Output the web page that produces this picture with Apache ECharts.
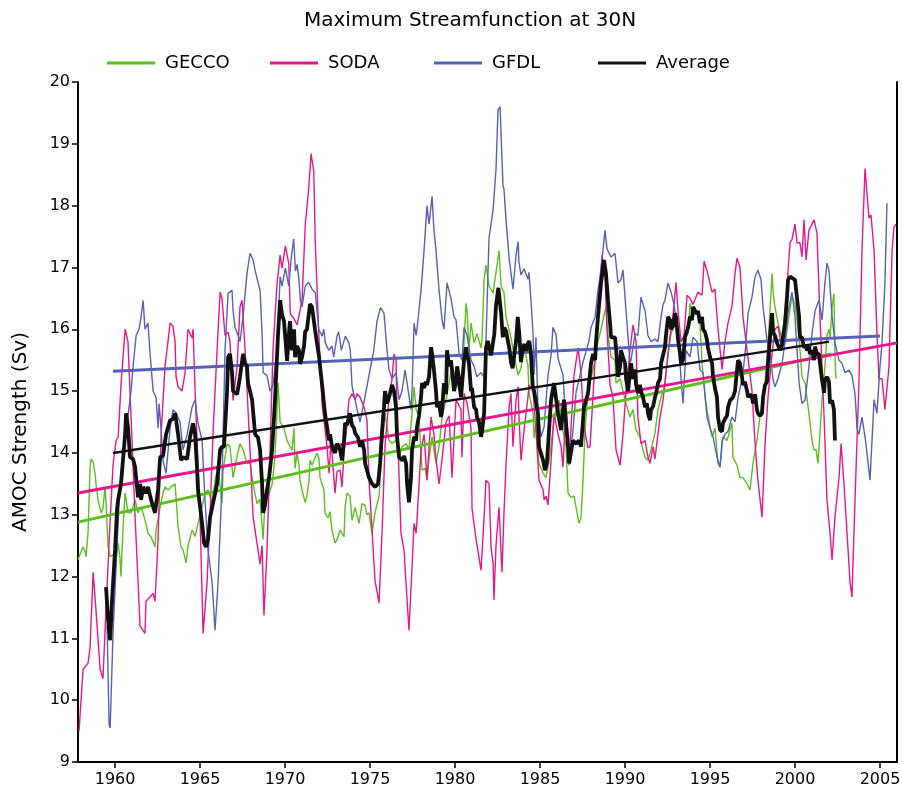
<!DOCTYPE html>
<html>
<head>
<meta charset="utf-8">
<script src="https://cdn.jsdelivr.net/npm/echarts@6/dist/echarts.min.js"></script>
<style>
html,body{margin:0;padding:0;background:#fff;}
#chart{width:902px;height:794px;}
</style>
</head>
<body>
<div id="chart"></div>
<script>
// ---- Data (year, Sv) ----
const SODA = [[1957.88,9.5],[1958.12,10.5],[1958.41,10.6],[1958.53,10.85],[1958.71,12.07],[1958.88,11.45],[1959.12,10.5],[1959.29,10.35],[1959.47,11.5],[1959.71,12.9],[1959.88,13.8],[1960.06,14.2],[1960.18,14.25],[1960.35,15.1],[1960.59,16.0],[1960.65,16.0],[1960.76,15.8],[1960.94,14.58],[1961.18,12.96],[1961.47,11.2],[1961.76,11.08],[1961.82,11.6],[1962.06,11.67],[1962.24,11.73],[1962.35,11.6],[1962.53,12.6],[1962.71,14.3],[1962.94,15.4],[1963.24,16.1],[1963.41,16.05],[1963.53,15.8],[1963.59,15.23],[1963.71,15.07],[1963.94,15.0],[1964.12,15.3],[1964.29,16.0],[1964.53,15.86],[1964.59,16.0],[1964.71,15.0],[1965.0,12.96],[1965.18,11.08],[1965.41,11.9],[1965.59,13.0],[1965.76,14.3],[1966.0,15.66],[1966.18,16.6],[1966.29,16.5],[1966.47,15.9],[1966.65,15.95],[1966.76,15.8],[1966.94,14.85],[1967.18,15.4],[1967.35,16.36],[1967.47,16.47],[1967.65,15.66],[1967.94,14.05],[1968.12,12.96],[1968.35,12.54],[1968.53,12.2],[1968.65,12.5],[1968.76,11.37],[1968.94,12.43],[1969.12,14.05],[1969.29,15.66],[1969.53,16.74],[1969.71,17.2],[1969.82,16.99],[1970.02,17.35],[1970.22,17.06],[1970.31,16.25],[1970.51,16.18],[1970.71,16.07],[1971.0,16.47],[1971.19,17.69],[1971.39,18.27],[1971.53,18.84],[1971.69,18.56],[1971.78,17.4],[1971.98,15.96],[1972.18,14.79],[1972.47,14.1],[1972.59,13.67],[1972.68,14.1],[1972.76,14.0],[1972.94,13.35],[1973.06,13.7],[1973.24,13.72],[1973.35,13.45],[1973.47,14.0],[1973.65,14.48],[1973.76,14.86],[1973.94,14.96],[1974.12,14.86],[1974.24,14.96],[1974.41,14.9],[1974.65,14.74],[1974.82,14.53],[1974.94,13.56],[1975.12,12.75],[1975.29,11.94],[1975.53,11.57],[1975.71,12.75],[1975.88,14.1],[1976.12,14.9],[1976.29,15.18],[1976.41,15.6],[1976.53,15.5],[1976.59,14.58],[1976.82,12.7],[1977.0,12.43],[1977.18,11.62],[1977.29,11.13],[1977.47,12.15],[1977.59,12.86],[1977.71,12.7],[1977.76,12.9],[1978.0,14.05],[1978.18,14.3],[1978.35,13.56],[1978.59,14.58],[1978.76,14.3],[1978.88,13.9],[1979.06,13.5],[1979.24,13.9],[1979.47,14.5],[1979.65,14.6],[1979.76,14.0],[1979.82,13.6],[1980.06,14.86],[1980.35,14.7],[1980.41,13.93],[1980.53,14.96],[1980.71,14.8],[1980.94,14.4],[1981.0,13.1],[1981.24,12.6],[1981.53,12.1],[1981.71,12.96],[1981.82,13.56],[1982.0,13.5],[1982.12,12.48],[1982.24,12.2],[1982.29,11.62],[1982.41,12.5],[1982.59,13.12],[1982.65,13.1],[1982.76,12.07],[1982.88,13.03],[1983.0,13.83],[1983.18,14.74],[1983.29,14.96],[1983.41,14.1],[1983.59,14.86],[1983.71,15.07],[1983.76,14.6],[1983.88,13.88],[1984.06,14.37],[1984.29,14.9],[1984.35,15.1],[1984.59,15.0],[1984.76,14.37],[1984.94,13.56],[1985.18,13.4],[1985.24,13.24],[1985.35,13.3],[1985.47,13.16],[1985.65,13.88],[1985.82,14.64],[1986.06,14.3],[1986.24,14.1],[1986.35,13.77],[1986.53,14.8],[1986.71,13.87],[1987.0,15.26],[1987.24,15.7],[1987.41,15.3],[1987.59,14.42],[1987.82,14.08],[1987.94,14.1],[1988.24,15.5],[1988.47,16.6],[1988.65,17.2],[1988.82,16.9],[1988.94,16.0],[1989.12,15.1],[1989.29,14.9],[1989.47,14.05],[1989.71,13.8],[1989.88,14.3],[1990.06,15.0],[1990.29,15.66],[1990.47,16.07],[1990.65,15.8],[1990.76,14.58],[1990.94,14.15],[1991.18,14.2],[1991.35,13.93],[1991.47,13.83],[1991.65,14.1],[1991.76,13.9],[1992.06,14.58],[1992.24,14.86],[1992.41,15.3],[1992.65,15.9],[1992.82,16.2],[1993.0,16.76],[1993.12,16.3],[1993.29,15.8],[1993.47,15.9],[1993.65,16.55],[1993.82,16.5],[1994.0,16.4],[1994.29,16.6],[1994.53,16.55],[1994.65,17.1],[1994.82,16.95],[1995.12,16.6],[1995.29,16.65],[1995.47,16.0],[1995.71,15.35],[1995.88,15.8],[1996.06,16.1],[1996.29,16.37],[1996.47,16.9],[1996.59,17.15],[1996.76,17.0],[1996.88,16.5],[1996.94,16.2],[1997.18,15.66],[1997.47,15.0],[1997.65,14.15],[1997.82,13.55],[1998.06,12.96],[1998.24,14.15],[1998.41,14.9],[1998.65,15.6],[1998.82,16.0],[1999.0,16.05],[1999.24,15.66],[1999.41,16.0],[1999.59,16.95],[1999.71,17.4],[1999.82,17.45],[2000.0,17.7],[2000.12,17.4],[2000.29,17.4],[2000.41,17.17],[2000.53,17.77],[2000.65,17.12],[2000.82,17.6],[2001.12,17.77],[2001.29,17.56],[2001.47,16.2],[2001.71,14.58],[2001.88,13.24],[2002.06,12.7],[2002.18,12.27],[2002.35,12.96],[2002.59,13.6],[2002.71,14.15],[2002.88,13.5],[2003.06,12.7],[2003.24,11.9],[2003.35,11.67],[2003.53,13.24],[2003.76,15.13],[2003.94,17.28],[2004.12,18.6],[2004.35,17.8],[2004.47,17.85],[2004.65,17.28],[2004.82,15.93],[2004.94,15.2],[2005.12,15.2],[2005.29,14.7],[2005.53,15.4],[2005.71,17.28],[2005.82,17.65],[2005.94,17.7]];

const GFDL = [[1959.53,11.2],[1959.65,9.6],[1959.71,9.55],[1959.88,11.08],[1960.06,12.15],[1960.29,13.5],[1960.59,14.3],[1960.76,14.6],[1960.94,15.0],[1961.06,15.4],[1961.24,15.9],[1961.41,16.0],[1961.53,16.2],[1961.65,16.47],[1961.76,16.0],[1961.94,16.1],[1962.06,15.6],[1962.24,15.0],[1962.41,14.9],[1962.53,14.4],[1962.59,14.8],[1962.71,14.37],[1962.82,13.88],[1963.0,13.67],[1963.24,14.4],[1963.41,14.7],[1963.59,14.65],[1963.82,14.5],[1964.0,14.05],[1964.24,14.3],[1964.53,14.74],[1964.71,14.86],[1964.88,14.48],[1965.12,14.2],[1965.29,13.24],[1965.47,12.43],[1965.71,11.9],[1965.88,11.13],[1966.06,11.9],[1966.29,13.5],[1966.47,15.66],[1966.65,16.58],[1966.88,16.63],[1966.94,16.3],[1967.06,16.03],[1967.24,15.9],[1967.35,15.8],[1967.53,16.2],[1967.76,16.9],[1967.94,17.23],[1968.12,17.12],[1968.24,16.95],[1968.35,16.95],[1968.53,16.63],[1968.65,15.93],[1968.71,15.3],[1968.94,15.25],[1969.12,15.0],[1969.29,15.1],[1969.53,15.66],[1969.71,16.85],[1969.82,16.7],[1970.02,16.99],[1970.22,16.7],[1970.37,17.17],[1970.51,17.46],[1970.61,16.94],[1970.71,17.05],[1970.81,16.82],[1970.9,16.47],[1971.0,16.36],[1971.19,16.7],[1971.39,16.76],[1971.59,16.65],[1971.78,16.59],[1971.98,16.0],[1972.18,15.89],[1972.28,16.0],[1972.37,15.78],[1972.57,15.66],[1972.76,15.73],[1972.86,15.55],[1973.06,15.89],[1973.16,15.96],[1973.31,15.66],[1973.55,15.89],[1973.75,15.78],[1973.84,15.66],[1973.94,15.08],[1974.12,14.86],[1974.24,14.7],[1974.41,14.5],[1974.63,14.8],[1974.82,15.08],[1975.02,15.37],[1975.22,15.66],[1975.41,16.13],[1975.61,16.35],[1975.82,16.26],[1976.0,15.66],[1976.12,15.34],[1976.29,15.2],[1976.53,15.3],[1976.71,14.86],[1976.88,15.0],[1977.06,15.34],[1977.18,15.13],[1977.41,14.7],[1977.47,15.0],[1977.59,16.1],[1977.71,15.9],[1977.76,16.0],[1978.0,16.63],[1978.18,17.28],[1978.35,18.0],[1978.47,17.7],[1978.65,18.15],[1978.76,17.6],[1978.88,17.28],[1979.06,16.63],[1979.24,16.15],[1979.35,16.0],[1979.53,16.75],[1979.76,16.5],[1979.94,16.2],[1980.06,16.15],[1980.24,15.6],[1980.41,15.5],[1980.53,16.03],[1980.71,15.9],[1980.94,15.5],[1981.12,15.4],[1981.29,15.23],[1981.53,15.3],[1981.71,15.23],[1981.82,15.81],[1982.0,17.48],[1982.24,17.93],[1982.41,18.59],[1982.53,19.55],[1982.65,19.6],[1982.71,19.16],[1982.82,18.32],[1982.88,18.27],[1983.0,17.77],[1983.12,17.37],[1983.18,17.15],[1983.41,16.65],[1983.59,17.2],[1983.71,17.42],[1983.76,17.09],[1983.88,16.88],[1984.06,16.98],[1984.29,16.81],[1984.35,16.92],[1984.47,16.47],[1984.59,15.92],[1984.65,15.26],[1984.76,15.87],[1984.88,14.7],[1985.06,14.26],[1985.24,14.42],[1985.47,15.26],[1985.65,15.58],[1985.76,16.03],[1985.94,15.92],[1986.06,15.53],[1986.35,15.26],[1986.53,14.42],[1986.71,13.8],[1986.94,14.37],[1987.12,14.98],[1987.53,15.47],[1987.88,15.81],[1988.0,16.03],[1988.24,16.2],[1988.41,16.63],[1988.59,16.96],[1988.71,17.3],[1988.82,17.6],[1988.94,17.3],[1989.18,17.17],[1989.41,17.23],[1989.59,16.75],[1989.76,16.8],[1989.88,16.96],[1990.06,16.3],[1990.29,15.45],[1990.35,15.5],[1990.59,15.93],[1990.76,15.9],[1990.94,16.52],[1991.06,16.4],[1991.18,16.3],[1991.35,15.9],[1991.53,15.8],[1991.76,15.84],[1991.94,15.8],[1992.12,16.2],[1992.24,16.4],[1992.35,16.47],[1992.53,16.75],[1992.71,16.6],[1992.88,16.4],[1993.12,15.93],[1993.29,15.23],[1993.41,14.8],[1993.59,15.66],[1993.82,15.55],[1994.0,15.87],[1994.24,15.8],[1994.41,15.34],[1994.59,15.3],[1994.82,14.58],[1995.0,14.4],[1995.18,14.26],[1995.41,13.93],[1995.59,13.77],[1995.71,14.2],[1995.88,14.3],[1996.06,14.35],[1996.29,14.58],[1996.47,14.5],[1996.65,14.9],[1996.88,15.18],[1997.06,15.6],[1997.24,16.26],[1997.47,16.52],[1997.65,16.85],[1997.82,16.96],[1998.0,16.8],[1998.12,16.36],[1998.35,15.83],[1998.53,15.6],[1998.71,15.18],[1998.82,15.07],[1999.0,15.2],[1999.24,15.45],[1999.41,15.8],[1999.59,16.26],[1999.82,16.6],[2000.0,16.2],[2000.24,15.13],[2000.41,14.8],[2000.59,14.85],[2000.82,15.4],[2001.0,15.93],[2001.18,16.3],[2001.41,16.47],[2001.59,16.15],[2001.76,16.75],[2001.88,17.07],[2002.0,16.95],[2002.18,16.2],[2002.35,15.78],[2002.59,15.5],[2002.76,15.45],[2002.94,15.3],[2003.18,15.34],[2003.35,15.25],[2003.53,14.96],[2003.65,14.4],[2003.76,14.3],[2003.94,14.58],[2004.12,14.26],[2004.35,13.72],[2004.41,13.56],[2004.53,14.2],[2004.65,14.86],[2004.82,14.64],[2005.0,15.4],[2005.12,15.78],[2005.29,16.75],[2005.41,18.04]];

const GECCO = [[1957.82,12.27],[1958.0,12.4],[1958.12,12.48],[1958.24,12.4],[1958.29,12.32],[1958.41,12.7],[1958.53,13.77],[1958.59,13.9],[1958.71,13.85],[1958.82,13.67],[1958.88,13.5],[1959.0,13.24],[1959.18,13.03],[1959.29,13.1],[1959.41,13.45],[1959.47,13.2],[1959.59,12.48],[1959.71,12.32],[1959.88,12.35],[1960.06,12.3],[1960.18,12.54],[1960.29,12.3],[1960.35,12.0],[1960.47,12.8],[1960.59,13.35],[1960.65,13.25],[1960.76,13.03],[1960.94,13.03],[1961.18,13.24],[1961.35,13.03],[1961.53,13.13],[1961.76,12.92],[1961.94,12.7],[1962.12,12.64],[1962.35,12.48],[1962.41,12.75],[1962.65,13.12],[1962.82,13.35],[1962.94,13.45],[1963.12,13.4],[1963.29,13.45],[1963.53,13.5],[1963.71,12.8],[1963.88,12.48],[1964.0,12.43],[1964.18,12.22],[1964.29,12.5],[1964.53,12.75],[1964.71,12.65],[1964.88,12.86],[1965.12,13.13],[1965.29,13.35],[1965.47,13.4],[1965.71,13.18],[1965.88,13.56],[1966.06,13.77],[1966.29,13.18],[1966.35,13.7],[1966.59,14.15],[1966.76,14.1],[1966.94,13.6],[1967.18,13.95],[1967.35,14.15],[1967.53,14.05],[1967.76,13.83],[1967.94,13.83],[1968.12,13.5],[1968.35,13.18],[1968.53,13.25],[1968.71,12.6],[1968.82,13.2],[1969.0,13.28],[1969.24,13.5],[1969.41,13.93],[1969.59,15.13],[1969.71,14.5],[1969.82,14.53],[1969.94,14.4],[1970.12,14.2],[1970.29,14.1],[1970.41,14.05],[1970.53,14.4],[1970.59,13.75],[1970.71,14.0],[1970.82,13.8],[1970.88,13.56],[1971.0,13.4],[1971.18,13.2],[1971.29,13.3],[1971.41,13.56],[1971.47,13.88],[1971.59,13.8],[1971.71,13.88],[1971.88,14.0],[1972.0,13.9],[1972.06,13.6],[1972.29,13.4],[1972.35,13.03],[1972.53,12.95],[1972.65,13.05],[1972.76,12.75],[1972.94,12.54],[1973.06,12.6],[1973.24,12.75],[1973.35,12.7],[1973.47,12.64],[1973.53,13.12],[1973.65,13.35],[1973.82,13.3],[1973.94,12.91],[1974.12,13.12],[1974.35,12.86],[1974.53,13.18],[1974.71,13.15],[1974.82,13.0],[1974.94,13.03],[1975.12,12.7],[1975.29,13.03],[1975.53,13.3],[1975.71,14.1],[1975.88,14.64],[1976.0,14.42],[1976.12,14.2],[1976.29,14.15],[1976.53,14.2],[1976.71,13.93],[1976.88,14.1],[1977.12,14.15],[1977.29,14.05],[1977.47,14.64],[1977.59,15.07],[1977.71,14.7],[1977.88,14.58],[1978.06,13.72],[1978.24,13.75],[1978.35,13.56],[1978.47,13.9],[1978.65,14.26],[1978.88,13.83],[1979.06,14.1],[1979.24,14.58],[1979.47,14.86],[1979.65,15.13],[1979.82,15.4],[1980.06,15.2],[1980.24,15.0],[1980.41,15.2],[1980.53,15.78],[1980.65,16.42],[1980.71,16.3],[1980.82,15.66],[1980.94,16.1],[1981.12,15.78],[1981.29,15.93],[1981.53,15.7],[1981.59,15.85],[1981.71,16.8],[1981.82,17.04],[1982.0,16.7],[1982.24,16.59],[1982.41,16.92],[1982.59,17.27],[1982.71,16.7],[1982.88,16.59],[1983.0,16.2],[1983.29,15.87],[1983.47,15.58],[1983.71,15.26],[1983.88,15.37],[1984.06,15.7],[1984.29,15.42],[1984.35,14.98],[1984.59,14.64],[1984.65,14.24],[1984.76,14.5],[1984.94,13.83],[1985.18,13.67],[1985.35,13.6],[1985.53,13.85],[1985.76,14.37],[1985.94,14.74],[1986.12,14.85],[1986.35,14.37],[1986.53,14.1],[1986.65,13.35],[1986.82,13.28],[1987.0,13.3],[1987.12,13.12],[1987.29,12.86],[1987.41,12.95],[1987.53,13.56],[1987.65,14.37],[1987.82,14.97],[1988.0,15.2],[1988.24,15.5],[1988.41,15.8],[1988.59,16.0],[1988.82,16.3],[1988.88,16.36],[1989.0,15.9],[1989.18,15.55],[1989.41,15.5],[1989.47,15.13],[1989.71,15.2],[1989.88,15.0],[1990.06,14.8],[1990.29,14.58],[1990.47,14.7],[1990.65,14.37],[1990.88,14.26],[1991.06,14.05],[1991.18,13.93],[1991.35,13.88],[1991.53,14.05],[1991.76,14.32],[1991.94,14.7],[1992.12,14.9],[1992.35,15.1],[1992.53,15.6],[1992.71,15.93],[1992.94,16.1],[1993.12,16.0],[1993.29,15.8],[1993.53,15.9],[1993.71,15.93],[1993.82,16.42],[1994.0,16.2],[1994.24,16.3],[1994.41,16.1],[1994.53,15.45],[1994.71,14.9],[1994.88,14.6],[1995.12,14.26],[1995.29,14.4],[1995.47,13.83],[1995.59,13.77],[1995.76,14.26],[1996.0,14.2],[1996.29,14.48],[1996.35,13.93],[1996.59,13.8],[1996.76,13.6],[1996.94,13.6],[1997.18,13.5],[1997.35,13.4],[1997.53,13.83],[1997.76,14.2],[1997.94,14.6],[1998.18,15.0],[1998.35,15.5],[1998.53,16.3],[1998.65,16.9],[1998.71,16.6],[1998.82,16.36],[1999.0,16.1],[1999.24,15.83],[1999.41,15.75],[1999.59,16.1],[1999.82,16.55],[2000.0,16.4],[2000.24,15.87],[2000.41,15.23],[2000.59,15.13],[2000.82,14.64],[2001.0,14.2],[2001.12,14.05],[2001.24,14.05],[2001.35,13.83],[2001.47,14.32],[2001.59,14.86],[2001.76,15.4],[2001.88,15.9],[2002.0,16.0],[2002.06,15.85],[2002.18,16.36],[2002.29,16.58],[2002.35,15.55],[2002.41,15.2]];

const AVERAGE = [[1959.47,11.83],[1959.59,11.3],[1959.71,10.97],[1959.82,11.6],[1960.0,12.43],[1960.12,13.1],[1960.18,13.24],[1960.35,13.5],[1960.59,14.3],[1960.65,14.64],[1960.76,14.42],[1960.88,13.93],[1961.06,13.9],[1961.18,13.77],[1961.35,13.28],[1961.47,13.5],[1961.53,13.24],[1961.65,13.45],[1961.82,13.35],[1961.94,13.45],[1962.12,13.24],[1962.35,13.03],[1962.53,13.4],[1962.65,13.93],[1962.82,13.95],[1963.0,14.3],[1963.24,14.53],[1963.41,14.55],[1963.53,14.64],[1963.71,14.3],[1963.88,13.88],[1964.0,13.93],[1964.24,13.9],[1964.41,14.26],[1964.59,14.48],[1964.71,14.3],[1964.82,13.77],[1964.88,13.4],[1965.12,12.86],[1965.24,12.54],[1965.35,12.48],[1965.47,12.6],[1965.59,12.96],[1965.76,13.18],[1966.0,13.5],[1966.18,14.05],[1966.29,14.1],[1966.41,14.1],[1966.59,15.0],[1966.65,15.55],[1966.76,15.6],[1966.88,15.3],[1966.94,15.0],[1967.18,14.95],[1967.35,15.23],[1967.53,15.6],[1967.65,15.45],[1967.76,15.4],[1967.82,15.13],[1968.06,14.86],[1968.24,14.3],[1968.41,14.25],[1968.53,14.05],[1968.65,13.5],[1968.71,13.03],[1968.82,13.15],[1968.94,13.4],[1969.06,13.6],[1969.24,14.05],[1969.41,14.86],[1969.59,15.93],[1969.71,16.47],[1969.82,16.24],[1969.94,16.13],[1970.12,15.49],[1970.24,15.96],[1970.29,16.13],[1970.41,15.66],[1970.53,16.0],[1970.59,15.55],[1970.71,15.73],[1970.82,15.66],[1970.88,15.44],[1971.0,15.55],[1971.12,15.73],[1971.18,15.96],[1971.29,16.0],[1971.47,16.41],[1971.59,16.36],[1971.76,16.0],[1972.0,15.55],[1972.18,15.1],[1972.35,14.64],[1972.59,14.2],[1972.65,14.3],[1972.76,14.1],[1972.94,14.0],[1973.06,14.15],[1973.24,14.05],[1973.35,13.88],[1973.47,14.2],[1973.53,14.48],[1973.65,14.45],[1973.76,14.58],[1973.82,14.64],[1973.94,14.45],[1974.06,14.4],[1974.12,14.32],[1974.29,14.25],[1974.41,14.1],[1974.53,14.2],[1974.65,14.05],[1974.71,13.83],[1974.94,13.6],[1975.12,13.5],[1975.29,13.45],[1975.47,13.5],[1975.59,13.83],[1975.71,14.37],[1975.82,14.74],[1975.88,15.0],[1976.0,14.8],[1976.12,14.9],[1976.29,15.1],[1976.41,15.0],[1976.53,14.74],[1976.59,14.26],[1976.71,13.93],[1976.88,13.88],[1977.0,13.95],[1977.12,13.83],[1977.18,13.5],[1977.29,13.2],[1977.41,13.6],[1977.47,14.05],[1977.59,14.26],[1977.71,14.2],[1977.76,14.42],[1977.88,14.6],[1978.0,14.9],[1978.06,15.13],[1978.18,15.05],[1978.29,15.15],[1978.35,15.1],[1978.47,15.23],[1978.59,15.71],[1978.65,15.6],[1978.76,15.34],[1978.88,15.0],[1978.94,14.74],[1979.06,14.8],[1979.18,14.58],[1979.24,14.7],[1979.35,15.13],[1979.47,14.95],[1979.53,15.66],[1979.65,15.4],[1979.76,15.5],[1979.82,15.35],[1979.94,15.0],[1980.06,15.15],[1980.12,15.4],[1980.24,15.2],[1980.35,14.9],[1980.41,15.1],[1980.53,15.5],[1980.65,15.71],[1980.71,15.6],[1980.82,15.45],[1980.94,15.0],[1981.0,15.05],[1981.12,14.74],[1981.24,14.7],[1981.29,14.58],[1981.41,14.5],[1981.53,14.26],[1981.59,14.35],[1981.71,14.64],[1981.76,15.1],[1981.82,15.7],[1981.92,15.81],[1982.02,15.7],[1982.12,15.58],[1982.22,15.58],[1982.31,15.92],[1982.41,16.38],[1982.55,16.67],[1982.71,16.26],[1982.81,15.87],[1982.9,16.03],[1983.0,15.97],[1983.1,15.98],[1983.19,15.7],[1983.29,15.47],[1983.39,15.37],[1983.59,15.81],[1983.69,16.2],[1983.78,15.92],[1983.88,15.47],[1983.98,15.7],[1984.08,15.76],[1984.18,15.65],[1984.27,15.76],[1984.37,15.81],[1984.47,15.58],[1984.57,15.08],[1984.65,15.0],[1984.88,14.64],[1984.94,14.1],[1985.18,13.88],[1985.29,13.72],[1985.41,13.85],[1985.53,14.37],[1985.65,14.86],[1985.82,15.13],[1986.06,14.64],[1986.24,14.37],[1986.41,14.86],[1986.65,14.1],[1986.71,13.83],[1986.94,14.2],[1987.12,14.15],[1987.29,14.2],[1987.41,14.1],[1987.59,14.74],[1987.82,14.96],[1988.0,15.45],[1988.12,15.6],[1988.24,15.5],[1988.29,15.78],[1988.41,16.2],[1988.59,16.75],[1988.76,17.12],[1988.88,16.9],[1989.0,16.47],[1989.12,16.1],[1989.18,15.87],[1989.41,15.87],[1989.47,15.7],[1989.59,15.23],[1989.71,15.4],[1989.76,15.66],[1989.88,15.55],[1990.0,15.45],[1990.06,15.2],[1990.18,15.0],[1990.29,15.3],[1990.35,15.45],[1990.47,15.2],[1990.59,15.35],[1990.65,15.1],[1990.76,14.97],[1990.88,15.1],[1990.94,15.0],[1991.06,14.9],[1991.18,14.74],[1991.29,14.8],[1991.35,14.64],[1991.47,14.53],[1991.53,14.7],[1991.65,14.75],[1991.76,14.9],[1991.82,14.95],[1991.94,15.13],[1992.06,15.2],[1992.12,15.45],[1992.35,15.71],[1992.41,15.9],[1992.53,16.2],[1992.65,16.15],[1992.71,16.0],[1992.82,16.05],[1992.94,16.26],[1993.0,16.2],[1993.12,15.83],[1993.24,15.6],[1993.29,15.45],[1993.41,15.5],[1993.53,15.87],[1993.59,15.9],[1993.71,16.03],[1993.82,16.2],[1993.94,16.15],[1994.0,16.36],[1994.12,16.3],[1994.24,16.25],[1994.29,16.3],[1994.41,16.1],[1994.53,16.2],[1994.59,16.0],[1994.71,15.95],[1994.82,15.83],[1994.88,15.7],[1995.0,15.55],[1995.12,15.45],[1995.18,15.23],[1995.29,15.05],[1995.41,14.9],[1995.47,14.58],[1995.59,14.37],[1995.71,14.35],[1995.76,14.48],[1995.88,14.55],[1996.0,14.6],[1996.06,14.74],[1996.18,14.85],[1996.29,14.85],[1996.35,14.9],[1996.47,15.0],[1996.59,15.34],[1996.65,15.5],[1996.76,15.45],[1996.88,15.23],[1996.94,15.1],[1997.06,15.15],[1997.18,15.0],[1997.24,14.9],[1997.35,14.95],[1997.47,14.9],[1997.53,14.8],[1997.65,14.95],[1997.76,14.7],[1997.82,14.64],[1997.94,14.6],[1998.06,14.64],[1998.12,14.9],[1998.24,15.1],[1998.35,15.15],[1998.41,15.45],[1998.53,15.87],[1998.65,16.26],[1998.71,15.95],[1998.82,15.9],[1998.94,15.78],[1999.0,15.8],[1999.12,15.66],[1999.24,15.75],[1999.29,15.87],[1999.41,16.1],[1999.53,16.52],[1999.59,16.8],[1999.71,16.85],[1999.82,16.82],[2000.0,16.8],[2000.12,16.5],[2000.24,16.2],[2000.29,15.87],[2000.41,15.87],[2000.53,15.7],[2000.59,15.75],[2000.71,15.66],[2000.82,15.72],[2000.88,15.6],[2001.0,15.66],[2001.12,15.5],[2001.18,15.72],[2001.29,15.6],[2001.41,15.6],[2001.47,15.45],[2001.59,15.18],[2001.71,14.97],[2001.76,15.18],[2001.88,15.23],[2002.0,15.15],[2002.06,14.8],[2002.18,14.85],[2002.29,14.7],[2002.35,14.2]];

// Linear trend lines (end points)
const GECCO_TREND = [[1957.82,12.88],[2002.1,15.6]];
const SODA_TREND = [[1957.82,13.35],[2006.0,15.78]];
const GFDL_TREND = [[1959.88,15.32],[2005.0,15.89]];
const AVERAGE_TREND = [[1959.88,14.0],[2002.0,15.8]];

const X_TICKS = [1960,1965,1970,1975,1980,1985,1990,1995,2000,2005];
const Y_TICKS = [9,10,11,12,13,14,15,16,17,18,19,20];

const TITLE = 'Maximum Streamfunction at 30N';
const Y_NAME = 'AMOC Strength (Sv)';
const NAMES = ['GECCO','SODA','GFDL','Average'];
const COLORS = {GECCO:'#5cbf1c', SODA:'#e8168a', GFDL:'#5562b6', Average:'#111111'};

const FONT = 'DejaVu Sans';
const chart = echarts.init(document.getElementById('chart'), null, {renderer:'canvas'});

function dataLine(name, data, width, z){
  return {name, type:'line', data, showSymbol:false, symbol:'none', z,
    lineStyle:{color:COLORS[name], width}, itemStyle:{color:COLORS[name]},
    emphasis:{disabled:true}, animation:false};
}
function trendLine(key, data, width){
  return {name:key+' trend', type:'line', data, showSymbol:false, symbol:'none', z:5,
    lineStyle:{color:COLORS[key], width}, emphasis:{disabled:true}, animation:false};
}
const legendLefts = [107,270,434,598];
const legends = NAMES.map((n,i)=>({
  data:[n], left:legendLefts[i], top:54, padding:0, icon:'rect', itemWidth:48, itemHeight:3,
  selectedMode:false,
  textStyle:{fontFamily:FONT, fontSize:18, color:'#000', padding:[0,0,0,5]}
}));

chart.setOption({
  animation:false,
  backgroundColor:'#fff',
  title:{text:TITLE, left:304, top:11, padding:0, textStyle:{fontFamily:FONT, fontSize:20, fontWeight:'normal', color:'#000'}},
  legend:legends,
  grid:{left:78, right:5, top:82, bottom:32, containLabel:false, outerBoundsMode:'none'},
  xAxis:{type:'value', min:1957.82, max:2006,
    axisLine:{lineStyle:{color:'#000', width:2}},
    axisTick:{show:true, length:6, lineStyle:{color:'#000', width:1.5}, customValues:X_TICKS},
    axisLabel:{color:'#000', fontFamily:FONT, fontSize:16, margin:10, customValues:X_TICKS, formatter:v=>String(Math.round(v))},
    splitLine:{show:false}},
  yAxis:[{type:'value', min:9, max:20, interval:1, name:Y_NAME, nameLocation:'middle', nameGap:47,
    nameTextStyle:{fontFamily:FONT, fontSize:20, color:'#000', padding:[0,20,0,0]},
    axisLine:{show:true, lineStyle:{color:'#000', width:2}},
    axisTick:{show:true, length:6, lineStyle:{color:'#000', width:1.5}},
    axisLabel:{color:'#000', fontFamily:FONT, fontSize:16, margin:8},
    splitLine:{show:false}},
   {type:'value', min:9, max:20, interval:1, position:'right',
    axisLine:{show:true, lineStyle:{color:'#000', width:2}},
    axisTick:{show:false}, axisLabel:{show:false}, splitLine:{show:false}}],
  series:[
    dataLine('GECCO', GECCO, 1.4, 2),
    dataLine('SODA', SODA, 1.4, 3),
    dataLine('GFDL', GFDL, 1.4, 4),
    trendLine('GECCO', GECCO_TREND, 3),
    trendLine('SODA', SODA_TREND, 3),
    trendLine('GFDL', GFDL_TREND, 3),
    trendLine('Average', AVERAGE_TREND, 2.5),
    dataLine('Average', AVERAGE, 3.8, 6)
  ]
});
</script>
</body>
</html>
